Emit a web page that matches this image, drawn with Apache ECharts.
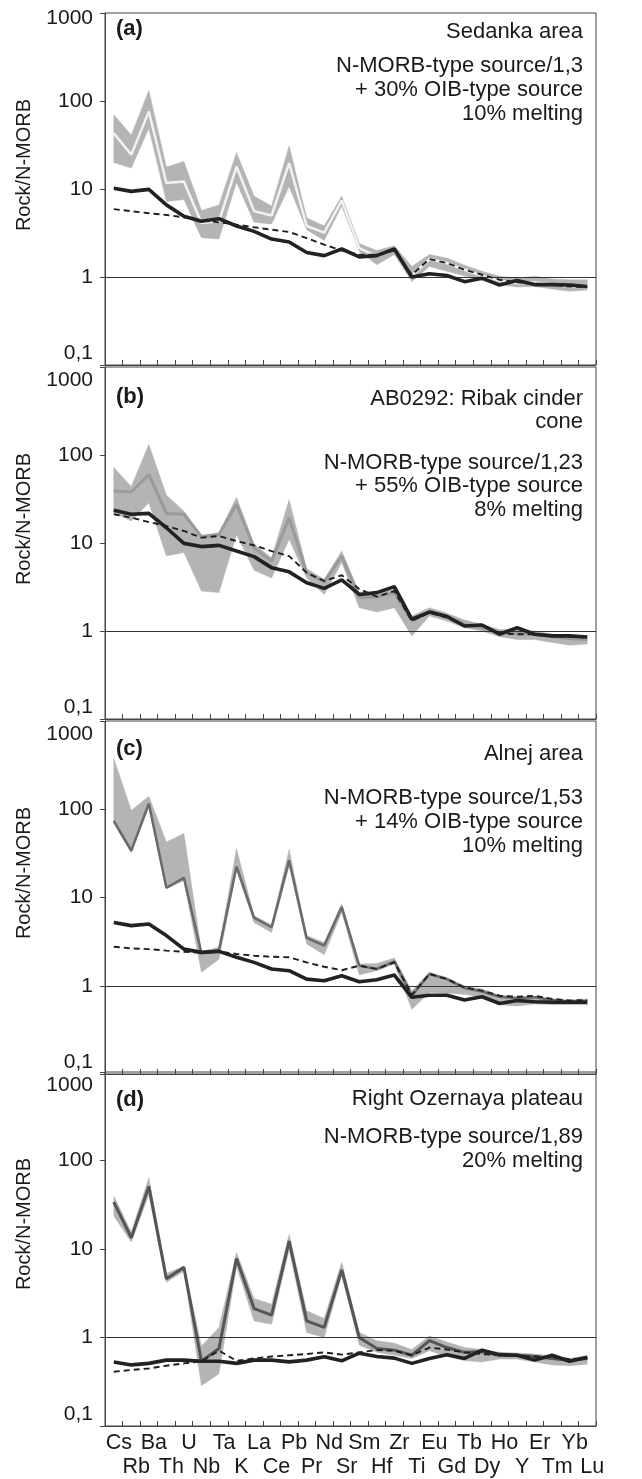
<!DOCTYPE html>
<html>
<head>
<meta charset="utf-8">
<script src="https://cdn.jsdelivr.net/npm/echarts@6/dist/echarts.min.js"></script>
<style>html,body{margin:0;padding:0;background:#fff}#c{width:642px;height:1479px}</style>
</head>
<body>
<div id="c"></div>
<script>
const elements = ['Cs','Rb','Ba','Th','U','Nb','Ta','K','La','Ce','Pb','Pr','Nd','Sr','Sm','Hf','Zr','Ti','Eu','Gd','Tb','Dy','Ho','Y','Er','Tm','Yb','Lu'];
const yTicks = [0.1, 1, 10, 100, 1000];

// Panel (a) Sedanka area
const a_black  = [10.2,9.4,9.9,6.6,4.9,4.3,4.6,3.8,3.3,2.7,2.5,1.9,1.75,2.08,1.69,1.75,2.08,1.0,1.09,1.04,0.885,0.97,0.81,0.91,0.82,0.82,0.81,0.78];
const a_dashed = [5.9,5.6,5.3,5.07,4.76,4.4,4.18,3.94,3.67,3.45,3.25,2.77,2.33,2.0,1.79,1.79,2.0,1.06,1.6,1.44,1.21,1.06,0.93,0.87,0.84,0.81,0.78,0.77];
const a_mid    = [43,24.6,76,11.7,12.2,4.1,4.3,18,5.6,5.0,19.7,3.8,3.2,7.4,2.13,1.72,2.05,1.03,1.6,1.44,1.21,1.03,0.91,0.85,0.87,0.82,0.78,0.8];
const a_hi     = [70,41,132,17.8,20.6,5.7,6.6,26,8.3,6.4,31,4.7,3.8,8.3,2.4,2.0,2.27,1.32,1.8,1.64,1.36,1.16,1.02,0.97,1.02,0.95,0.93,0.93];
const a_lo     = [20,17.3,49,7.2,7.6,2.8,2.7,11.9,4.2,4.0,10.7,3.45,2.6,6.4,1.96,1.38,1.8,0.89,1.32,1.16,1.03,0.91,0.82,0.77,0.78,0.73,0.69,0.71];

// Panel (b) AB0292
const b_black  = [23.5,21.2,21.7,14.9,9.9,9.1,9.4,8.1,7.0,5.25,4.7,3.54,3.05,3.8,2.6,2.73,3.19,1.36,1.64,1.46,1.14,1.17,0.92,1.09,0.92,0.88,0.88,0.855];
const b_dashed = [21.2,19.4,17.3,15.6,13.7,11.5,12.0,10.5,9.4,8.1,7.1,4.6,3.7,4.3,3.0,2.45,2.85,1.3,1.62,1.42,1.14,1.14,0.94,0.92,0.92,0.88,0.86,0.84];
const b_mid    = [39,38,60,21.7,21.2,11.8,12.5,27.5,8.85,6.2,19.4,4.6,3.6,7.1,2.39,2.45,2.73,1.3,1.69,1.48,1.19,1.09,0.96,0.94,0.92,0.86,0.82,0.8];
const b_hi     = [72,44,132,35,23,12.2,13.1,33,9.7,6.8,31,5.1,3.87,8.1,2.73,2.73,3.0,1.48,1.84,1.59,1.33,1.19,1.04,1.03,1.0,0.92,0.88,0.88];
const b_lo     = [22,17.8,28.7,7.1,7.8,2.85,2.73,12.5,4.9,4.0,11.0,4.0,2.6,6.0,1.84,1.64,1.84,0.88,1.48,1.3,1.09,1.0,0.86,0.8,0.8,0.74,0.69,0.71];

// Panel (c) Alnej area
const c_black  = [5.2,4.8,5.0,3.7,2.6,2.39,2.45,2.1,1.84,1.55,1.48,1.19,1.14,1.3,1.11,1.17,1.32,0.74,0.78,0.78,0.69,0.75,0.63,0.68,0.66,0.65,0.65,0.65];
const c_dashed = [2.77,2.65,2.6,2.5,2.43,2.37,2.45,2.29,2.19,2.13,2.1,1.84,1.64,1.5,1.69,1.55,1.84,0.79,1.36,1.19,0.96,0.88,0.77,0.75,0.77,0.71,0.68,0.69];
const c_mid    = [74,34,116,12.9,16.7,2.33,2.54,22.5,5.9,4.6,26.3,3.48,2.85,7.8,1.69,1.55,1.89,0.77,1.36,1.19,0.94,0.86,0.75,0.72,0.74,0.69,0.66,0.67];
const c_hi     = [376,97,140,42.5,53,2.45,2.73,35.7,6.2,4.9,35,3.7,3.1,8.5,1.76,1.79,2.06,0.88,1.42,1.24,1.0,0.92,0.78,0.75,0.75,0.71,0.69,0.71];
const c_lo     = [69,32,106,12.5,15.6,1.42,2.0,20.3,5.2,4.0,23,2.97,2.25,6.8,1.33,1.48,1.76,0.54,0.84,0.82,0.8,0.74,0.61,0.59,0.62,0.61,0.61,0.61];

// Panel (d) Right Ozernaya plateau
const d_black  = [0.53,0.49,0.51,0.555,0.555,0.54,0.54,0.51,0.555,0.555,0.53,0.555,0.605,0.545,0.665,0.61,0.585,0.51,0.58,0.64,0.58,0.72,0.64,0.63,0.555,0.63,0.54,0.6];
const d_dashed = [0.41,0.43,0.447,0.48,0.51,0.54,0.71,0.545,0.58,0.61,0.63,0.65,0.68,0.64,0.68,0.72,0.71,0.63,0.77,0.73,0.68,0.65,0.63,0.62,0.61,0.6,0.57,0.58];
const d_mid    = [33.9,13.4,51,4.6,6.2,0.54,0.75,7.8,2.12,1.79,12.3,1.54,1.3,5.8,1.0,0.75,0.72,0.63,0.92,0.77,0.68,0.69,0.63,0.63,0.61,0.58,0.55,0.58];
const d_hi     = [39.6,15.6,64,5.3,6.4,0.8,1.3,9.1,2.75,2.38,14.6,2.0,1.64,7.1,1.14,0.92,0.86,0.73,1.04,0.89,0.77,0.73,0.68,0.67,0.65,0.62,0.58,0.62];
const d_lo     = [23.6,12.0,41,4.2,5.6,0.285,0.39,6.4,1.54,1.41,9.9,1.14,1.0,5.05,0.82,0.68,0.63,0.58,0.71,0.61,0.55,0.53,0.57,0.57,0.53,0.49,0.48,0.5];

const panelLetters = ['(a)','(b)','(c)','(d)'];
const panelTitles = [
  ['Sedanka area'],
  ['AB0292: Ribak cinder','cone'],
  ['Alnej area'],
  ['Right Ozernaya plateau']
];
const panelModels = [
  ['N-MORB-type source/1,3','+ 30% OIB-type source','10% melting'],
  ['N-MORB-type source/1,23','+ 55% OIB-type source','8% melting'],
  ['N-MORB-type source/1,53','+ 14% OIB-type source','10% melting'],
  ['N-MORB-type source/1,89','20% melting']
];
const yName = 'Rock/N-MORB';

const panels = [
  {black:a_black, dashed:a_dashed, mid:a_mid, hi:a_hi, lo:a_lo, midColor:'#f2f2f2', midWidth:2.5},
  {black:b_black, dashed:b_dashed, mid:b_mid, hi:b_hi, lo:b_lo, midColor:'#9a9a9a', midWidth:3},
  {black:c_black, dashed:c_dashed, mid:c_mid, hi:c_hi, lo:c_lo, midColor:'#6a6a6a', midWidth:2.5},
  {black:d_black, dashed:d_dashed, mid:d_mid, hi:d_hi, lo:d_lo, midColor:'#555555', midWidth:3}
];

const FONT = '"Liberation Sans", Arial, Helvetica, sans-serif';
const gridTops = [13, 367, 721, 1072];
const gridHeights = [352, 352, 353, 354];
const letterY = [29, 396.5, 749, 1100];
const titleY = [[32], [399, 421.5], [754], [1099]];
const modelY = [[66, 90, 114], [462.5, 486, 509.5], [798, 821.5, 845.5], [1136.5, 1160.5]];
const topLabelShift = [10, 26, 26, 26];
const botLabelShift = [24, 24, 24, 24];

const grids = [], xAxes = [], yAxes = [], series = [], graphics = [];

panels.forEach((p, k) => {
  grids.push({left:105, width:491, top:gridTops[k], height:gridHeights[k], show:true, borderColor:'#444', borderWidth:1, backgroundColor:'transparent'});
  xAxes.push({
    type:'category', gridIndex:k, data:elements, boundaryGap:true,
    axisLine:{show:true, lineStyle:{color:'#444', width:1}},
    axisTick:{show:true, inside:true, length:5, interval:0, lineStyle:{color:'#444'}},
    axisLabel: k === 3 ? {
      show:true, interval:0, fontSize:21.5, fontFamily:FONT, color:'#1a1a1a', lineHeight:24, margin:5,
      padding:[0,0,0,10],
      formatter:(v, i) => (i % 2 ? '\n' + v : v)
    } : {show:false},
    splitLine:{show:false}
  });
  const richBase = {fontSize:21, fontFamily:FONT, color:'#1a1a1a'};
  yAxes.push({
    type:'log', logBase:10, gridIndex:k, min:yTicks[0], max:yTicks[yTicks.length-1], splitNumber:4,
    axisLine:{show:true, lineStyle:{color:'#444', width:1}},
    axisTick:{show:true, inside:false, length:5, lineStyle:{color:'#444'}},
    minorTick:{show:false},
    splitLine:{show:false},
    axisLabel:{
      fontSize:21, fontFamily:FONT, color:'#1a1a1a', margin:12,
      rich:{
        t:Object.assign({padding:[topLabelShift[k],0,0,0]}, richBase),
        b:Object.assign({padding:[0,0,botLabelShift[k],0]}, richBase),
        n:Object.assign({}, richBase)
      },
      formatter:(v) => {
        const r = Math.round(v * 10) / 10;
        const s = r < 1 ? String(r).replace('.', ',') : String(Math.round(r));
        if (r >= yTicks[yTicks.length-1]) return '{t|' + s + '}';
        if (r <= yTicks[0]) return '{b|' + s + '}';
        return '{n|' + s + '}';
      }
    }
  });
  const lo = p.lo, hi = p.hi;
  series.push({
    type:'custom', xAxisIndex:k, yAxisIndex:k, z:1, silent:true,
    data: lo.map((v, i) => [i, v, hi[i]]),
    encode:{x:0, y:[1,2]},
    renderItem:(params, api) => {
      if (params.dataIndex !== 0) return null;
      const pts = [];
      for (let i = 0; i < hi.length; i++) pts.push(api.coord([i, hi[i]]));
      for (let i = lo.length - 1; i >= 0; i--) pts.push(api.coord([i, lo[i]]));
      return {type:'polygon', shape:{points:pts}, style:{fill:'#b4b4b4', stroke:'#b4b4b4', lineWidth:0.5}};
    }
  });
  series.push({
    type:'line', xAxisIndex:k, yAxisIndex:k, z:2, data:[], silent:true,
    markLine:{silent:true, symbol:'none', label:{show:false}, animation:false,
      lineStyle:{color:'#333', width:1, type:'solid'}, data:[{yAxis:1}]}
  });
  series.push({type:'line', xAxisIndex:k, yAxisIndex:k, z:3, data:p.mid, symbol:'none', silent:true,
    lineStyle:{color:p.midColor, width:p.midWidth}});
  series.push({type:'line', xAxisIndex:k, yAxisIndex:k, z:4, data:p.dashed, symbol:'none', silent:true,
    lineStyle:{color:'#1e1e1e', width:1.9, type:[6,4]}});
  series.push({type:'line', xAxisIndex:k, yAxisIndex:k, z:5, data:p.black, symbol:'none', silent:true,
    lineStyle:{color:'#222', width:3.6}});

  const txt = (text, x, y, align, font, rot) => ({
    type:'text', z:10, silent:true, x:x, y:y, rotation:rot || 0,
    style:{text:text, x:0, y:0, fill:'#1a1a1a', font:font, textAlign:align, align:align, textVerticalAlign:'middle', verticalAlign:'middle'}
  });
  graphics.push(txt(panelLetters[k], 116, letterY[k], 'left', 'bold 22px ' + FONT));
  panelTitles[k].forEach((t, j) => graphics.push(txt(t, 583, titleY[k][j], 'right', '22px ' + FONT)));
  panelModels[k].forEach((t, j) => graphics.push(txt(t, 583, modelY[k][j], 'right', '22px ' + FONT)));
  graphics.push(txt(yName, 24, gridTops[k] + 152, 'center', '20px ' + FONT, Math.PI / 2));
});

const chart = echarts.init(document.getElementById('c'), null, {renderer:'canvas'});
chart.setOption({
  animation:false,
  backgroundColor:'#ffffff',
  grid:grids, xAxis:xAxes, yAxis:yAxes, series:series, graphic:graphics
});
</script>
</body>
</html>
